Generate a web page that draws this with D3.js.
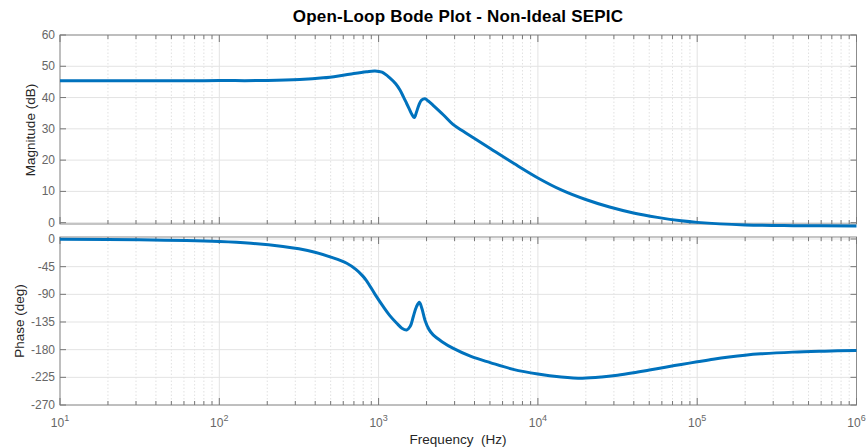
<!DOCTYPE html>
<html>
<head>
<meta charset="utf-8">
<script src="https://cdn.jsdelivr.net/npm/d3@7"></script>
<style>
  body { margin: 0; background: #fff; }
  text { font-family: "Liberation Sans", Arial, sans-serif; }
</style>
</head>
<body>
<svg width="867" height="448"></svg>
<script>
// magnitude response (Hz, dB)
let magFreq = [10, 50, 100, 200, 320, 450, 573, 700, 840, 950, 1050, 1175, 1280, 1362, 1430, 1500, 1560, 1610, 1675,
    1730, 1790, 1860, 1955, 2050, 2200, 2545, 2930, 3400, 3980, 5130, 7080, 10000, 14125, 19950, 28180,
    39800, 56230, 79430, 100000, 200000, 400000, 1000000];
let magDb = [45.4, 45.4, 45.42, 45.45, 45.75, 46.3, 47.0, 47.7, 48.25, 48.5, 48.1, 46.3, 44.4, 42.4, 40.3, 38.1, 36.3, 34.8, 33.6,
    35.4, 37.6, 39.2, 39.6, 38.9, 37.5, 34.5, 31.4, 29.2, 27.0, 23.4, 18.9, 14.3, 10.4, 7.4, 5.0,
    3.1, 1.7, 0.6, 0.1, -0.7, -0.95, -1.05];

// phase response (Hz, deg)
let phFreq = [10, 31.6, 100, 158, 251, 316, 398, 501, 631, 720, 794, 841, 950, 1070, 1180, 1300, 1400, 1500, 1580, 1652, 1730, 1802,
    1870, 1955, 2070, 2200, 2500, 2945, 3800, 5020, 7000, 10000, 14000, 19000, 25100, 31600, 39800, 50100, 63100,
    79400, 100000, 125900, 158500, 199500, 251200, 398100, 631000, 1000000];
let phDeg = [-0.4, -1.3, -4.2, -7.0, -12.2, -16.0, -21.5, -29.5, -39.5, -49.5, -60, -68, -90, -110, -125, -137, -145, -148, -142, -126, -110, -103,
    -113, -132, -147, -156, -167, -178, -191, -201, -212, -219.6, -224.3, -226.3, -224.5, -221.5, -217.5, -213, -208.5,
    -204, -199.8, -195.6, -192.0, -189.0, -186.8, -184.0, -182.4, -181.2];

let magTicks = [0, 10, 20, 30, 40, 50, 60];
let phTicks = [0, -45, -90, -135, -180, -225, -270];
let decades = [1e1, 1e2, 1e3, 1e4, 1e5, 1e6];

let svg = d3.select('svg');
let left = 60, right = 856.5;

let x = d3.scaleLog().domain([10, 1e6]).range([left, right]);
let yMag = d3.scaleLinear().domain([-0.42, 60]).range([224, 35]);
let yPh = d3.scaleLinear().domain([-270, 3.25]).range([405, 237]);

// minor ticks 2..9 in each decade
let minor = [];
decades.slice(0, -1).forEach(function(d) {
    for (let k = 2; k <= 9; k++) minor.push(d * k);
});

function drawPanel(y, ticks) {
    let top = y.range()[1], bottom = y.range()[0];
    let g = svg.append('g');

    // grid
    g.selectAll('.minor').data(minor).join('line')
        .attr('x1', d => x(d)).attr('x2', d => x(d))
        .attr('y1', top).attr('y2', bottom)
        .attr('stroke', '#d9d9d9').attr('stroke-width', 0.8)
        .attr('stroke-dasharray', '1.5,2');
    g.selectAll('.major').data(decades).join('line')
        .attr('x1', d => x(d)).attr('x2', d => x(d))
        .attr('y1', top).attr('y2', bottom)
        .attr('stroke', '#e3e3e3').attr('stroke-width', 1);
    g.selectAll('.hgrid').data(ticks).join('line')
        .attr('x1', left).attr('x2', right)
        .attr('y1', d => y(d)).attr('y2', d => y(d))
        .attr('stroke', '#e3e3e3').attr('stroke-width', 1);

    // box
    g.append('rect')
        .attr('x', left).attr('y', top)
        .attr('width', right - left).attr('height', bottom - top)
        .attr('fill', 'none').attr('stroke', '#8c8c8c').attr('stroke-width', 1);

    // y ticks left & right
    ticks.forEach(function(t) {
        g.append('line').attr('x1', left).attr('x2', left + 6)
            .attr('y1', y(t)).attr('y2', y(t)).attr('stroke', '#777');
        g.append('line').attr('x1', right - 6).attr('x2', right)
            .attr('y1', y(t)).attr('y2', y(t)).attr('stroke', '#777');
        g.append('text')
            .attr('x', left - 5).attr('y', y(t) + 4)
            .attr('text-anchor', 'end')
            .attr('font-size', 12).attr('fill', '#666')
            .text(t);
    });

    // x ticks top & bottom
    decades.forEach(function(d) {
        g.append('line').attr('x1', x(d)).attr('x2', x(d))
            .attr('y1', bottom).attr('y2', bottom - 7).attr('stroke', '#777');
        g.append('line').attr('x1', x(d)).attr('x2', x(d))
            .attr('y1', top).attr('y2', top + 7).attr('stroke', '#777');
    });
    minor.forEach(function(d) {
        g.append('line').attr('x1', x(d)).attr('x2', x(d))
            .attr('y1', bottom).attr('y2', bottom - 4).attr('stroke', '#777');
        g.append('line').attr('x1', x(d)).attr('x2', x(d))
            .attr('y1', top).attr('y2', top + 4).attr('stroke', '#777');
    });
}

drawPanel(yMag, magTicks);
drawPanel(yPh, phTicks);

// curves
let magLine = d3.line()
    .x(d => x(d[0])).y(d => yMag(d[1]))
    .curve(d3.curveCatmullRom.alpha(0.5));
let phLine = d3.line()
    .x(d => x(d[0])).y(d => yPh(d[1]))
    .curve(d3.curveCatmullRom.alpha(0.5));

svg.append('path')
    .datum(d3.zip(magFreq, magDb))
    .attr('d', magLine)
    .attr('fill', 'none').attr('stroke', '#0072BD').attr('stroke-width', 3)
    .attr('stroke-linejoin', 'round');
svg.append('path')
    .datum(d3.zip(phFreq, phDeg))
    .attr('d', phLine)
    .attr('fill', 'none').attr('stroke', '#0072BD').attr('stroke-width', 3)
    .attr('stroke-linejoin', 'round');

// x tick labels 10^n
decades.forEach(function(d) {
    let t = svg.append('text')
        .attr('x', x(d)).attr('y', 427)
        .attr('text-anchor', 'middle')
        .attr('font-size', 12).attr('fill', '#666');
    t.append('tspan').text('10');
    t.append('tspan').attr('dy', -6).attr('font-size', 9).text(Math.round(Math.log10(d)));
});

// labels
svg.append('text')
    .attr('x', 458).attr('y', 22)
    .attr('text-anchor', 'middle')
    .attr('font-size', 17).attr('font-weight', 'bold').attr('fill', '#000')
    .attr('letter-spacing', 0.2)
    .text('Open-Loop Bode Plot - Non-Ideal SEPIC');

svg.append('text')
    .attr('transform', 'translate(35,130) rotate(-90)')
    .attr('text-anchor', 'middle')
    .attr('font-size', 13.5).attr('fill', '#262626')
    .text('Magnitude (dB)');

svg.append('text')
    .attr('transform', 'translate(24,321) rotate(-90)')
    .attr('text-anchor', 'middle')
    .attr('font-size', 13.5).attr('fill', '#262626')
    .text('Phase (deg)');

svg.append('text')
    .attr('x', 458).attr('y', 444)
    .attr('text-anchor', 'middle')
    .attr('font-size', 13.5).attr('fill', '#262626')
    .text('Frequency\u00a0 (Hz)');
</script>
</body>
</html>
